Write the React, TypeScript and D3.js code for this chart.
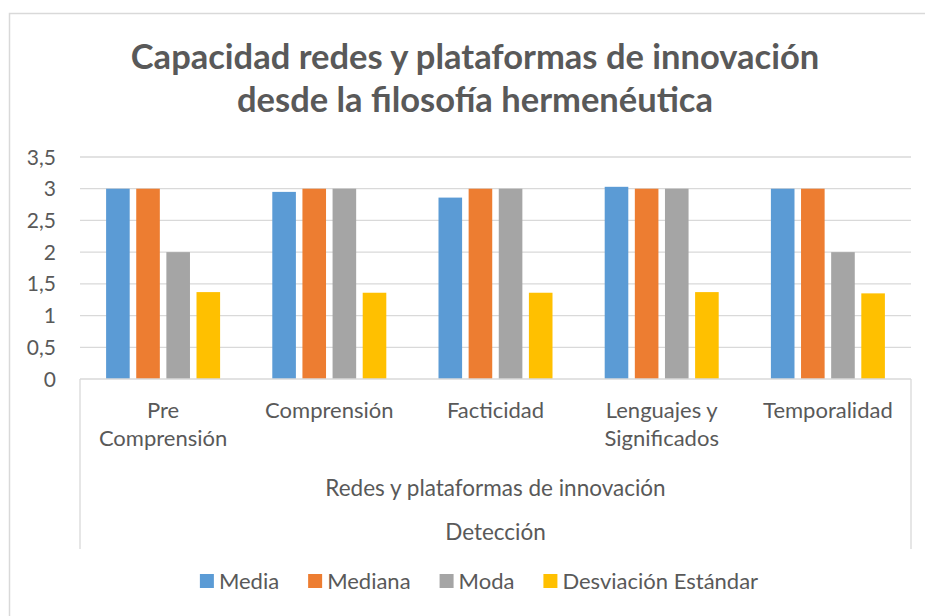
import React, { useEffect, useRef } from "react";
import * as d3 from "d3";

const categories: string[][] = [
  ["Pre", "Comprensión"],
  ["Comprensión"],
  ["Facticidad"],
  ["Lenguajes y", "Significados"],
  ["Temporalidad"],
];
const seriesNames = ["Media", "Mediana", "Moda", "Desviación Estándar"];
const media = [3.0, 2.95, 2.86, 3.03, 3.0];
const mediana = [3, 3, 3, 3, 3];
const moda = [2, 3, 3, 3, 2];
const desviacion = [1.37, 1.36, 1.36, 1.37, 1.35];
const colors = ["#5b9bd5", "#ed7d31", "#a5a5a5", "#ffc000"];
const yTicks = [0, 0.5, 1, 1.5, 2, 2.5, 3, 3.5];
const titleLines = ["Capacidad redes y plataformas de innovación", "desde la filosofía hermenéutica"];
const axisTitle1 = "Redes y plataformas de innovación";
const axisTitle2 = "Detección";

const W = 925;
const H = 616;
const FONT = "Lato, 'Open Sans', sans-serif";
const TXT = "#595959";
const GRID = "#d9d9d9";

export default function App() {
  const ref = useRef<SVGSVGElement | null>(null);
  useEffect(() => {
    const svg = d3.select(ref.current);
    svg.selectAll("*").remove();
    const data = [media, mediana, moda, desviacion];

    // chart border
    svg.append("rect").attr("x", 9.5).attr("y", 13.5).attr("width", 1000).attr("height", 1000)
      .attr("fill", "#fff").attr("stroke", GRID).attr("stroke-width", 1.5);

    // title
    const t = svg.append("text").attr("text-anchor", "middle").attr("fill", TXT)
      .attr("font-family", FONT).attr("font-weight", "bold").attr("font-size", 34.5);
    titleLines.forEach((l, i) => {
      t.append("tspan").attr("x", 475).attr("y", 69 + i * 43).text(l);
    });

    const left = 80, right = 911, top = 157, bottom = 379;
    const x = d3.scaleBand<number>().domain(d3.range(categories.length)).range([left, right]).paddingInner(0).paddingOuter(0);
    const cw = x.bandwidth();
    const groupW = 114;
    const xs = d3.scaleBand<number>().domain(d3.range(seriesNames.length))
      .range([(cw - groupW) / 2, (cw + groupW) / 2]).paddingInner(0.217).paddingOuter(0);
    const y = d3.scaleLinear().domain([0, 3.5]).range([bottom, top]);
    const fmt = (v: number) => String(v).replace(".", ",");

    // gridlines
    svg.append("g").selectAll("line").data(yTicks.filter((v) => v > 0)).join("line")
      .attr("x1", left).attr("x2", right).attr("y1", (d) => y(d)).attr("y2", (d) => y(d))
      .attr("stroke", GRID).attr("stroke-width", 1.3);

    // y labels
    svg.append("g").selectAll("text").data(yTicks).join("text")
      .attr("x", 56).attr("y", (d) => y(d)).attr("dy", "0.36em").attr("text-anchor", "end")
      .attr("fill", TXT).attr("font-family", FONT).attr("font-size", 21).text((d) => fmt(d));

    // bars
    data.forEach((vals, si) => {
      svg.append("g").selectAll("rect").data(vals).join("rect")
        .attr("x", (_, i) => (x(i) as number) + (xs(si) as number))
        .attr("width", xs.bandwidth())
        .attr("y", (d) => y(d)).attr("height", (d) => bottom - y(d))
        .attr("fill", colors[si]);
    });

    // axis line & group lines
    svg.append("line").attr("x1", left).attr("x2", right).attr("y1", bottom).attr("y2", bottom)
      .attr("stroke", GRID).attr("stroke-width", 1.3);
    [left, right].forEach((xx) => {
      svg.append("line").attr("x1", xx).attr("x2", xx).attr("y1", bottom).attr("y2", 549)
        .attr("stroke", GRID).attr("stroke-width", 1.3);
    });

    // category labels
    categories.forEach((lines, i) => {
      const tx = svg.append("text").attr("text-anchor", "middle").attr("fill", TXT)
        .attr("font-family", FONT).attr("font-size", 22);
      lines.forEach((l, j) => {
        tx.append("tspan").attr("x", (x(i) as number) + cw / 2).attr("y", 418 + j * 28).text(l);
      });
    });

    svg.append("text").attr("x", (left + right) / 2).attr("y", 496).attr("text-anchor", "middle")
      .attr("fill", TXT).attr("font-family", FONT).attr("font-size", 22.5).text(axisTitle1);
    svg.append("text").attr("x", (left + right) / 2).attr("y", 540).attr("text-anchor", "middle")
      .attr("fill", TXT).attr("font-family", FONT).attr("font-size", 22.5).text(axisTitle2);

    // legend
    const lg = svg.append("g");
    let cx = 0;
    seriesNames.forEach((n, i) => {
      const g = lg.append("g").attr("transform", `translate(${cx},0)`);
      g.append("rect").attr("x", 0).attr("y", 574).attr("width", 14).attr("height", 14).attr("fill", colors[i]);
      const tt = g.append("text").attr("x", 19).attr("y", 589).attr("fill", TXT)
        .attr("font-family", FONT).attr("font-size", 22).text(n);
      const w = (tt.node() as SVGTextElement).getComputedTextLength();
      cx += 19 + w + 29;
    });
    const total = cx - 29;
    lg.attr("transform", `translate(${479 - total / 2},0)`);
  }, []);
  return (
    <svg ref={ref} width={W} height={H} style={{ position: "absolute", left: 0, top: 0, background: "#fff" }} />
  );
}
